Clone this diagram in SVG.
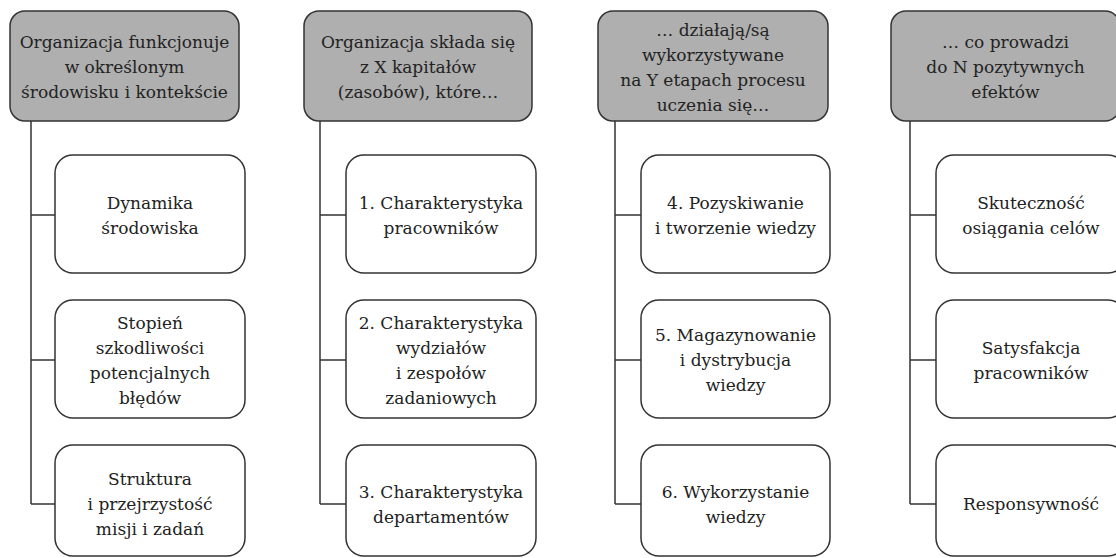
<svg xmlns="http://www.w3.org/2000/svg" width="1116" height="558" viewBox="0 0 1116 558">
<style>
.hdr{fill:#afafaf;stroke:#333;stroke-width:1.5}
.box{fill:#fff;stroke:#333;stroke-width:1.5}
.con{fill:none;stroke:#333;stroke-width:1.5}
.t{font-family:'DejaVu Serif', 'Noto Serif', Tinos, serif;font-size:17px;fill:#222;text-anchor:middle}
</style>
<rect width="1116" height="558" fill="#fff"/>
<g id="connectors">
<path class="con" d="M31 121V504M31 215H55M31 360H55M31 504H55"/>
<path class="con" d="M320 121V504M320 215H346M320 360H346M320 504H346"/>
<path class="con" d="M615 121V504M615 215H641M615 360H641M615 504H641"/>
<path class="con" d="M910 121V504M910 215H936M910 360H936M910 504H936"/>
</g>
<g id="h1"><rect class="hdr" x="10" y="11" width="229" height="110" rx="15"/>
<text class="t"><tspan x="124.5" y="48">Organizacja funkcjonuje</tspan><tspan x="124.5" y="73">w określonym</tspan><tspan x="124.5" y="98">środowisku i kontekście</tspan></text></g>
<g id="h2"><rect class="hdr" x="304" y="11" width="228" height="110" rx="15"/>
<text class="t"><tspan x="418" y="48">Organizacja składa się</tspan><tspan x="418" y="73">z X kapitałów</tspan><tspan x="418" y="98">(zasobów), które…</tspan></text></g>
<g id="h3"><rect class="hdr" x="598" y="11" width="230" height="110" rx="15"/>
<text class="t"><tspan x="713" y="35.5">… działają/są</tspan><tspan x="713" y="60.5">wykorzystywane</tspan><tspan x="713" y="85.5">na Y etapach procesu</tspan><tspan x="713" y="110.5">uczenia się…</tspan></text></g>
<g id="h4"><rect class="hdr" x="891" y="11" width="229" height="110" rx="15"/>
<text class="t"><tspan x="1005.5" y="48">… co prowadzi</tspan><tspan x="1005.5" y="73">do N pozytywnych</tspan><tspan x="1005.5" y="98">efektów</tspan></text></g>

<g id="c1a"><rect class="box" x="55" y="155" width="190" height="118" rx="18"/>
<text class="t"><tspan x="150" y="208.5">Dynamika</tspan><tspan x="150" y="233.5">środowiska</tspan></text></g>
<g id="c1b"><rect class="box" x="55" y="300" width="190" height="118" rx="18"/>
<text class="t"><tspan x="150" y="328.5">Stopień</tspan><tspan x="150" y="353.5">szkodliwości</tspan><tspan x="150" y="378.5">potencjalnych</tspan><tspan x="150" y="403.5">błędów</tspan></text></g>
<g id="c1c"><rect class="box" x="55" y="445" width="190" height="111" rx="18"/>
<text class="t"><tspan x="150" y="485">Struktura</tspan><tspan x="150" y="510">i przejrzystość</tspan><tspan x="150" y="535">misji i zadań</tspan></text></g>

<g id="c2a"><rect class="box" x="346" y="155" width="190" height="118" rx="18"/>
<text class="t"><tspan x="441" y="208.5">1. Charakterystyka</tspan><tspan x="441" y="233.5">pracowników</tspan></text></g>
<g id="c2b"><rect class="box" x="346" y="300" width="190" height="118" rx="18"/>
<text class="t"><tspan x="441" y="328.5">2. Charakterystyka</tspan><tspan x="441" y="353.5">wydziałów</tspan><tspan x="441" y="378.5">i zespołów</tspan><tspan x="441" y="403.5">zadaniowych</tspan></text></g>
<g id="c2c"><rect class="box" x="346" y="445" width="190" height="111" rx="18"/>
<text class="t"><tspan x="441" y="497.5">3. Charakterystyka</tspan><tspan x="441" y="522.5">departamentów</tspan></text></g>

<g id="c3a"><rect class="box" x="641" y="155" width="189" height="118" rx="18"/>
<text class="t"><tspan x="735.5" y="208.5">4. Pozyskiwanie</tspan><tspan x="735.5" y="233.5">i tworzenie wiedzy</tspan></text></g>
<g id="c3b"><rect class="box" x="641" y="300" width="189" height="118" rx="18"/>
<text class="t"><tspan x="735.5" y="341">5. Magazynowanie</tspan><tspan x="735.5" y="366">i dystrybucja</tspan><tspan x="735.5" y="391">wiedzy</tspan></text></g>
<g id="c3c"><rect class="box" x="641" y="445" width="189" height="111" rx="18"/>
<text class="t"><tspan x="735.5" y="497.5">6. Wykorzystanie</tspan><tspan x="735.5" y="522.5">wiedzy</tspan></text></g>

<g id="c4a"><rect class="box" x="936" y="155" width="190" height="118" rx="18"/>
<text class="t"><tspan x="1031" y="208.5">Skuteczność</tspan><tspan x="1031" y="233.5">osiągania celów</tspan></text></g>
<g id="c4b"><rect class="box" x="936" y="300" width="190" height="118" rx="18"/>
<text class="t"><tspan x="1031" y="353.5">Satysfakcja</tspan><tspan x="1031" y="378.5">pracowników</tspan></text></g>
<g id="c4c"><rect class="box" x="936" y="445" width="190" height="111" rx="18"/>
<text class="t"><tspan x="1031" y="510">Responsywność</tspan></text></g>
</svg>
